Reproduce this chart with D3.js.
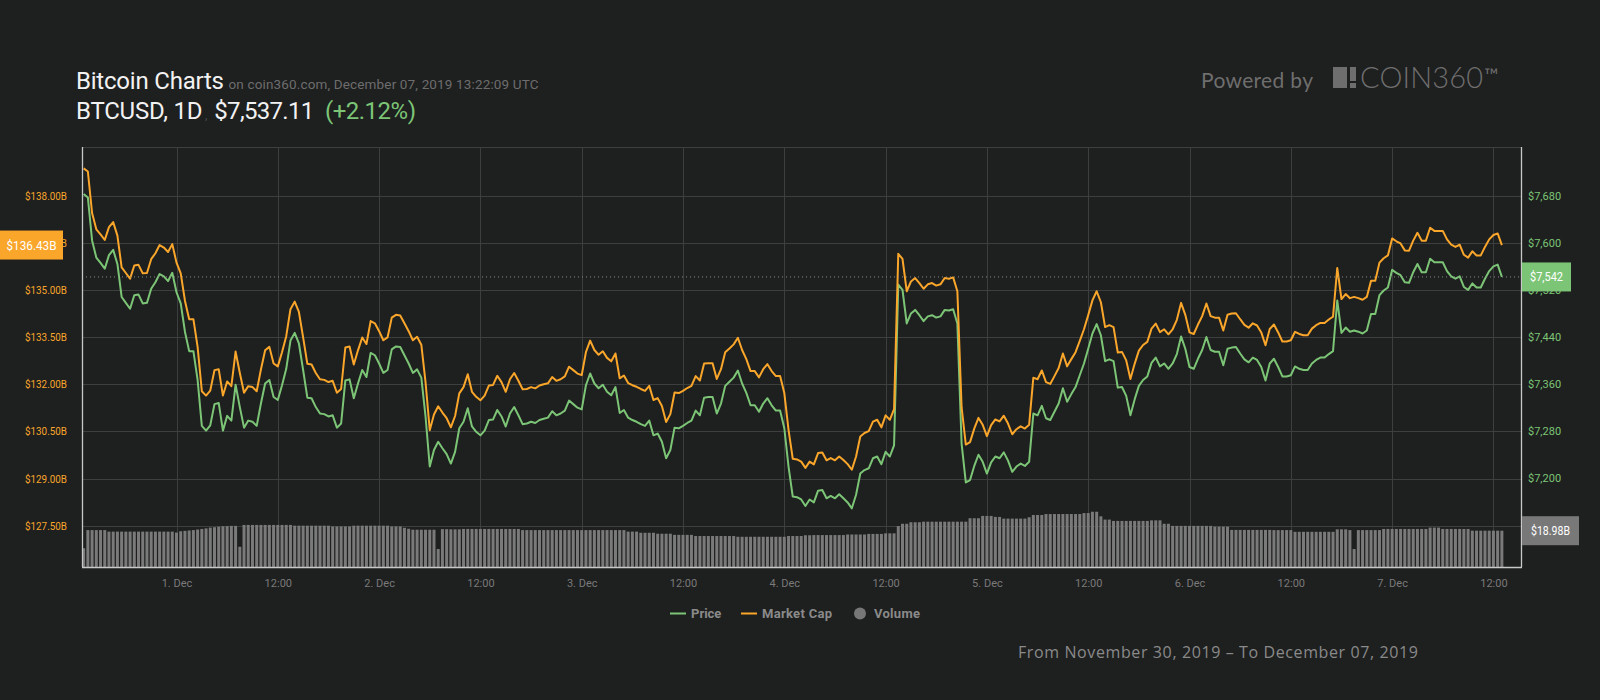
<!DOCTYPE html>
<html><head><meta charset="utf-8">
<script src="https://cdn.jsdelivr.net/npm/d3@7"></script>
<style>
html,body{margin:0;padding:0;background:#1e1f1f;}
svg{display:block;font-family:Roboto,"Noto Sans",sans-serif;}
</style></head><body>
<svg id="chart" width="1600" height="700"></svg>
<script>
// ---------- data (30-minute samples, Nov 30 13:00 UTC -> Dec 7 13:00 UTC) ----------
const startTime = "2019-11-30T13:00:00Z";
const stepMinutes = 30;

const price = [
7683,7677,7604,7575,7566,7556,7579,7588,7564,7508,
7498,7488,7511,7512,7497,7498,7522,7533,7547,7543,
7535,7549,7516,7497,7449,7416,7416,7367,7289,7281,
7290,7326,7328,7281,7306,7298,7359,7321,7286,7298,
7296,7289,7327,7361,7367,7338,7333,7358,7386,7434,
7447,7429,7384,7337,7336,7321,7310,7309,7305,7307,
7286,7293,7366,7368,7336,7361,7384,7372,7413,7409,
7395,7379,7384,7419,7424,7423,7409,7395,7379,7385,
7371,7305,7220,7248,7262,7251,7241,7225,7245,7285,
7296,7319,7288,7279,7273,7281,7299,7300,7316,7305,
7288,7310,7321,7307,7292,7293,7296,7294,7299,7301,
7303,7314,7307,7310,7315,7332,7326,7320,7317,7358,
7378,7361,7353,7359,7347,7341,7355,7311,7316,7303,
7299,7296,7292,7289,7298,7273,7276,7262,7234,7248,
7286,7285,7289,7294,7298,7315,7307,7337,7338,7338,
7310,7327,7357,7364,7371,7383,7361,7345,7324,7324,
7313,7327,7336,7324,7315,7315,7285,7220,7169,7168,
7164,7153,7164,7159,7179,7180,7166,7170,7166,7173,
7166,7159,7149,7172,7208,7214,7217,7234,7237,7224,
7245,7237,7256,7529,7520,7463,7480,7486,7477,7467,
7475,7477,7473,7475,7486,7485,7487,7463,7259,7193,
7197,7221,7240,7228,7208,7227,7237,7234,7244,7230,
7211,7220,7225,7221,7228,7310,7307,7323,7302,7299,
7313,7327,7353,7330,7343,7355,7375,7395,7420,7446,
7462,7443,7399,7402,7399,7354,7355,7340,7307,7334,
7357,7367,7373,7396,7405,7390,7395,7386,7395,7411,
7441,7420,7389,7386,7403,7418,7440,7418,7415,7415,
7392,7420,7422,7423,7412,7402,7397,7405,7401,7389,
7366,7395,7403,7389,7373,7373,7375,7390,7386,7384,
7384,7395,7401,7405,7405,7411,7416,7502,7447,7456,
7449,7451,7449,7446,7451,7479,7479,7511,7519,7524,
7554,7549,7545,7533,7532,7550,7564,7550,7550,7573,
7567,7567,7567,7552,7543,7539,7543,7525,7520,7531,
7524,7524,7539,7552,7560,7563,7542
];

const marketCap = [
138.87,138.77,137.45,136.93,136.77,136.59,137.00,137.16,136.73,135.72,
135.54,135.36,135.78,135.80,135.53,135.54,135.98,136.17,136.43,136.35,
136.21,136.46,135.87,135.53,134.66,134.07,134.07,133.19,131.78,131.64,
131.80,132.45,132.48,131.64,132.09,131.94,133.04,132.36,131.73,131.94,
131.91,131.78,132.47,133.08,133.19,132.66,132.57,133.02,133.53,134.39,
134.63,134.30,133.49,132.65,132.63,132.36,132.16,132.14,132.07,132.11,
131.73,131.85,133.17,133.20,132.63,133.08,133.49,133.28,134.01,133.94,
133.69,133.40,133.49,134.12,134.21,134.19,133.94,133.69,133.40,133.51,
133.26,132.07,130.54,131.04,131.30,131.10,130.92,130.63,130.99,131.71,
131.91,132.32,131.76,131.60,131.49,131.64,131.96,131.98,132.27,132.07,
131.76,132.16,132.36,132.11,131.84,131.85,131.91,131.87,131.96,132.00,
132.03,132.23,132.11,132.16,132.25,132.56,132.45,132.34,132.29,133.02,
133.39,133.09,132.94,133.05,132.84,132.73,132.98,132.19,132.28,132.04,
131.97,131.92,131.85,131.79,131.95,131.50,131.56,131.31,130.80,131.05,
131.74,131.72,131.79,131.88,131.95,132.26,132.12,132.66,132.67,132.67,
132.17,132.48,133.02,133.14,133.27,133.48,133.09,132.80,132.42,132.42,
132.22,132.48,132.64,132.42,132.26,132.26,131.72,130.55,129.63,129.61,
129.54,129.34,129.54,129.45,129.81,129.83,129.58,129.65,129.58,129.70,
129.59,129.46,129.28,129.70,130.34,130.45,130.51,130.81,130.87,130.63,
131.01,130.87,131.21,136.15,135.99,134.96,135.27,135.38,135.22,135.04,
135.18,135.22,135.14,135.18,135.38,135.36,135.40,134.96,131.27,130.08,
130.16,130.59,130.93,130.71,130.35,130.70,130.88,130.82,131.00,130.75,
130.41,130.57,130.66,130.59,130.71,132.21,132.16,132.44,132.07,132.01,
132.26,132.52,132.98,132.57,132.80,133.02,133.38,133.75,134.20,134.67,
134.96,134.61,133.82,133.88,133.82,133.01,133.03,132.76,132.17,132.65,
133.07,133.25,133.35,133.77,133.93,133.66,133.75,133.59,133.75,134.05,
134.59,134.21,133.65,133.60,133.90,134.17,134.57,134.17,134.12,134.12,
133.71,134.21,134.25,134.26,134.07,133.89,133.80,133.94,133.87,133.65,
133.24,133.76,133.90,133.65,133.36,133.36,133.40,133.67,133.60,133.56,
133.56,133.77,133.88,133.95,133.95,134.06,134.15,135.70,134.71,134.87,
134.74,134.78,134.74,134.69,134.78,135.29,135.29,135.87,136.01,136.10,
136.64,136.55,136.48,136.26,136.25,136.57,136.82,136.57,136.57,136.98,
136.88,136.88,136.88,136.61,136.44,136.37,136.44,136.12,136.03,136.23,
136.10,136.10,136.37,136.61,136.75,136.80,136.43
];

const volume = [
9.8,19.3,19.3,19.3,19.3,19.3,18.5,18.5,18.5,18.5,
18.5,18.5,18.5,18.5,18.5,18.5,18.5,18.5,18.5,18.5,
18.5,18.5,18.0,18.7,18.9,19.1,19.3,19.6,19.9,20.2,
20.6,20.8,21.1,21.3,21.4,21.5,21.5,10.6,22.0,22.0,
22.0,22.0,22.0,22.0,22.0,22.0,22.0,22.0,22.0,22.0,
21.6,21.6,21.6,21.6,21.6,21.6,21.6,21.6,21.6,21.2,
21.2,21.2,21.2,21.2,21.6,21.6,21.6,21.6,21.6,21.6,
21.6,21.6,21.6,21.2,21.2,21.2,20.5,20.0,19.5,19.5,
19.5,19.5,19.5,19.5,9.4,19.8,19.8,19.7,19.7,19.7,
19.9,19.9,19.9,19.9,19.9,19.9,19.9,19.9,19.9,19.9,
19.9,19.9,19.9,19.9,19.3,19.3,19.3,19.3,19.3,19.3,
19.3,19.3,19.3,19.3,19.3,19.3,19.3,19.3,19.3,19.3,
19.3,19.3,19.3,19.3,19.3,19.3,19.3,19.3,19.3,18.5,
18.5,18.5,17.9,17.9,17.9,17.9,17.4,17.4,17.4,17.4,
16.8,16.8,16.8,16.8,16.8,16.2,16.2,16.2,16.2,16.2,
16.2,16.2,16.2,16.2,16.2,15.8,15.8,15.8,15.8,15.8,
15.8,15.8,15.8,15.8,15.8,15.8,15.8,16.2,16.2,16.2,
16.2,16.6,16.6,16.7,16.7,16.7,16.7,16.7,16.7,16.7,
16.7,17.0,17.0,17.0,17.0,17.0,17.3,17.3,17.3,17.3,
17.6,17.6,17.6,21.4,22.6,22.6,23.4,23.4,23.4,23.7,
23.7,23.7,23.7,23.7,23.7,23.7,23.7,23.7,23.7,23.7,
25.5,25.5,25.5,26.7,26.7,26.7,26.2,26.2,25.3,25.3,
25.3,25.3,25.3,25.3,26.0,27.2,27.2,27.2,27.7,27.7,
27.7,27.7,27.7,27.7,27.7,27.7,27.7,28.2,28.2,28.9,
28.9,26.5,24.8,24.8,24.1,24.1,24.1,24.1,24.1,24.1,
24.1,24.1,24.1,24.4,24.4,24.4,22.6,22.6,21.5,21.5,
21.5,21.5,21.5,21.5,21.5,21.5,21.5,21.5,21.1,21.1,
21.1,21.1,19.4,19.4,19.4,19.4,19.4,19.4,19.4,19.4,
19.4,19.4,19.3,19.3,19.3,19.3,19.3,18.4,18.4,18.4,
18.4,18.4,18.4,18.4,18.4,18.4,18.4,19.7,19.7,19.7,
19.3,9.4,19.3,19.3,19.3,19.3,19.3,19.3,19.9,19.9,
19.9,19.9,19.9,19.9,19.9,19.9,19.9,19.9,19.9,20.6,
20.6,20.6,19.9,19.9,19.9,19.9,19.9,19.9,19.9,19.0,
19.0,19.0,19.0,19.0,19.0,19.0,18.98
];

const capTicks = [127.5, 129, 130.5, 132, 133.5, 135, 136.5, 138];
const priceTicks = [7200, 7280, 7360, 7440, 7520, 7600, 7680];
const timeTicks = ["2019-12-01T00:00Z","2019-12-01T12:00Z","2019-12-02T00:00Z","2019-12-02T12:00Z",
  "2019-12-03T00:00Z","2019-12-03T12:00Z","2019-12-04T00:00Z","2019-12-04T12:00Z",
  "2019-12-05T00:00Z","2019-12-05T12:00Z","2019-12-06T00:00Z","2019-12-06T12:00Z",
  "2019-12-07T00:00Z","2019-12-07T12:00Z"];
const timeTickLabels = ["1. Dec","12:00","2. Dec","12:00","3. Dec","12:00","4. Dec","12:00",
  "5. Dec","12:00","6. Dec","12:00","7. Dec","12:00"];
const xDomain = ["2019-11-30T12:48:20Z", "2019-12-07T15:16:00Z"];
const capDomain = [127.5, 138];
const priceDomain = [7200, 7680];
const volDomain = [0, 20];
const legendItems = ["Price", "Market Cap", "Volume"];
const currentPrice = 7542, currentCap = 136.43, currentVolume = 18.98;

// ---------- layout ----------
const L = 82, R = 1521, T = 147, B = 567;
const C = {
  bg: "#1e1f1f", grid: "#3d3e3e", axis: "#c8c8c8",
  green: "#7cc576", orange: "#f9a62b", vol: "#7a7a7a",
  label: "#7a7a7a", title: "#f2f2f2", sub: "#6d6d6d"
};

const svg = d3.select("#chart");
svg.append("rect").attr("width", 1600).attr("height", 700).attr("fill", C.bg);

const t0 = new Date(startTime).getTime();
const timeAt = i => new Date(t0 + i * stepMinutes * 60000);

const x = d3.scaleUtc().domain(xDomain.map(d => new Date(d))).range([L, R]);
const yCap = d3.scaleLinear().domain(capDomain).range([525.7, 195.7]);
const yPrice = d3.scaleLinear().domain(priceDomain).range([478.3, 195.7]);
const yVol = d3.scaleLinear().domain(volDomain).range([B, B - 38.25]);

// grid
const g = svg.append("g");
g.append("line").attr("x1", L).attr("x2", R).attr("y1", T + 0.5).attr("y2", T + 0.5)
  .attr("stroke", C.grid);
g.selectAll(".hg").data(capTicks).join("line")
  .attr("x1", L).attr("x2", R)
  .attr("y1", d => Math.round(yCap(d)) + 0.5).attr("y2", d => Math.round(yCap(d)) + 0.5)
  .attr("stroke", C.grid);
g.selectAll(".vg").data(timeTicks).join("line")
  .attr("x1", d => Math.round(x(new Date(d))) + 0.5).attr("x2", d => Math.round(x(new Date(d))) + 0.5)
  .attr("y1", T).attr("y2", B)
  .attr("stroke", C.grid);

// volume bars
svg.append("g").selectAll("rect").data(volume).join("rect")
  .attr("x", (d, i) => x(timeAt(i)) - 1.5)
  .attr("width", 3)
  .attr("y", d => yVol(d))
  .attr("height", d => B - yVol(d))
  .attr("fill", C.vol);

// lines
const linePrice = d3.line().x((d, i) => x(timeAt(i))).y(d => yPrice(d));
const lineCap = d3.line().x((d, i) => x(timeAt(i))).y(d => yCap(d));
svg.append("path").datum(price).attr("d", linePrice)
  .attr("fill", "none").attr("stroke", C.green).attr("stroke-width", 2).attr("stroke-linejoin", "round");
svg.append("path").datum(marketCap).attr("d", lineCap)
  .attr("fill", "none").attr("stroke", C.orange).attr("stroke-width", 2).attr("stroke-linejoin", "round");

// current price dotted line
svg.append("line").attr("x1", L).attr("x2", R)
  .attr("y1", yPrice(currentPrice)).attr("y2", yPrice(currentPrice))
  .attr("stroke", "#8a8a8a").attr("stroke-width", 1).attr("stroke-dasharray", "1,3");

// axis lines
svg.append("line").attr("x1", L + 0.5).attr("x2", L + 0.5).attr("y1", T).attr("y2", B)
  .attr("stroke", C.axis).attr("stroke-width", 1.3);
svg.append("line").attr("x1", R + 0.5).attr("x2", R + 0.5).attr("y1", T).attr("y2", B)
  .attr("stroke", C.axis).attr("stroke-width", 1.3);
svg.append("line").attr("x1", L).attr("x2", R + 1).attr("y1", B + 0.5).attr("y2", B + 0.5)
  .attr("stroke", C.axis).attr("stroke-width", 1.3);

// axes labels
const axL = svg.append("g").attr("transform", `translate(${L},0)`)
  .call(d3.axisLeft(yCap).tickValues(capTicks).tickSize(0).tickPadding(15)
    .tickFormat(d => "$" + d3.format(".2f")(d) + "B"));
axL.select(".domain").remove();
axL.selectAll("text").attr("fill", C.orange).attr("font-size", 11).attr("font-family", "Roboto")
  .attr("textLength", 42).attr("lengthAdjust", "spacingAndGlyphs");

const axR = svg.append("g").attr("transform", `translate(${R},0)`)
  .call(d3.axisRight(yPrice).tickValues(priceTicks).tickSize(0).tickPadding(7)
    .tickFormat(d => "$" + d3.format(",")(d)));
axR.select(".domain").remove();
axR.selectAll("text").attr("fill", C.green).attr("font-size", 11).attr("font-family", "Roboto");

const axB = svg.append("g").attr("transform", `translate(0,${B})`)
  .call(d3.axisBottom(x).tickValues(timeTicks.map(d => new Date(d))).tickSize(0).tickPadding(12)
    .tickFormat((d, i) => timeTickLabels[i]));
axB.select(".domain").remove();
axB.selectAll("text").attr("fill", C.label).attr("font-size", 11).attr("font-family", "Roboto");

// badges
function badge(x0, w, yc, fill, text, tl, fs) {
  svg.append("rect").attr("x", x0).attr("y", yc - 14.5).attr("width", w).attr("height", 29).attr("fill", fill);
  svg.append("text").attr("x", x0 + w / 2).attr("y", yc + 4.5).attr("text-anchor", "middle")
    .attr("fill", "#fff").attr("font-size", fs).attr("font-family", "Roboto")
    .attr("textLength", tl).attr("lengthAdjust", "spacingAndGlyphs").text(text);
}
badge(0, 63, yCap(currentCap), C.orange, "$" + d3.format(".2f")(currentCap) + "B", 50, 13);
badge(R + 1, 49, yPrice(currentPrice), C.green, "$" + d3.format(",")(currentPrice), 33, 12);
badge(R + 1, 57, yVol(currentVolume), "#787878", "$" + d3.format(".2f")(currentVolume) + "B", 39, 12);

// header
const hd = svg.append("g").attr("font-family", "Roboto");
hd.append("text").attr("x", 76).attr("y", 88.5).attr("font-size", 24).attr("fill", C.title)
  .attr("textLength", 148).text("Bitcoin Charts");
hd.append("text").attr("x", 228.5).attr("y", 88.5).attr("font-size", 13.5).attr("fill", C.sub)
  .attr("textLength", 310).text("on coin360.com, December 07, 2019 13:22:09 UTC");
hd.append("text").attr("x", 76).attr("y", 118.5).attr("font-size", 24).attr("fill", C.title)
  .attr("textLength", 126.5).text("BTCUSD, 1D");
hd.append("text").attr("x", 205).attr("y", 118.5).attr("font-size", 12).attr("fill", "#4a4a4a").text(",");
hd.append("text").attr("x", 214.3).attr("y", 118.5).attr("font-size", 24).attr("fill", C.title)
  .attr("textLength", 100).text("$7,537.11");
hd.append("text").attr("x", 325).attr("y", 118.5).attr("font-size", 24).attr("fill", C.green)
  .attr("textLength", 91).text("(+2.12%)");

// powered by
const pb = svg.append("g").attr("fill", "#6e6e6e");
pb.append("text").attr("x", 1201).attr("y", 88).attr("font-family", "Lato").attr("font-size", 21)
  .attr("textLength", 112).text("Powered by");
pb.append("rect").attr("x", 1333).attr("y", 67).attr("width", 14).attr("height", 21);
pb.append("rect").attr("x", 1350).attr("y", 67).attr("width", 6).attr("height", 14);
pb.append("rect").attr("x", 1350).attr("y", 83).attr("width", 6).attr("height", 5);
pb.append("text").attr("x", 1360).attr("y", 88.3).attr("font-family", "Lato").attr("font-weight", 300)
  .attr("font-size", 29).attr("textLength", 123).text("COIN360");
pb.append("text").attr("x", 1484).attr("y", 82).attr("font-family", "Lato").attr("font-size", 19).text("™");

// legend
const lg = svg.append("g").attr("font-family", "Roboto").attr("font-weight", "bold").attr("font-size", 13).attr("fill", "#8a8a8a");
const ly = 613.5;
lg.append("line").attr("x1", 670).attr("x2", 686).attr("y1", ly).attr("y2", ly).attr("stroke", C.green).attr("stroke-width", 2);
lg.append("text").attr("x", 691).attr("y", ly + 4.5).text(legendItems[0]);
lg.append("line").attr("x1", 741).attr("x2", 757).attr("y1", ly).attr("y2", ly).attr("stroke", C.orange).attr("stroke-width", 2);
lg.append("text").attr("x", 762).attr("y", ly + 4.5).attr("textLength", 70).text(legendItems[1]);
lg.append("circle").attr("cx", 860).attr("cy", ly).attr("r", 6).attr("fill", "#777");
lg.append("text").attr("x", 874).attr("y", ly + 4.5).attr("textLength", 46).text(legendItems[2]);

// date range
svg.append("text").attr("x", 1018).attr("y", 658).attr("font-family", "'Open Sans'").attr("font-size", 16)
  .attr("fill", "#8a8a8a").attr("textLength", 400)
  .text("From November 30, 2019 \u2013 To December 07, 2019");
</script>
</body></html>
